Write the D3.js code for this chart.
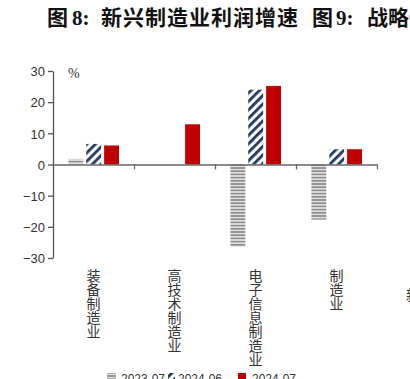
<!DOCTYPE html>
<html>
<head>
<meta charset="utf-8">
<script src="https://cdn.jsdelivr.net/npm/d3@7"></script>
<style>
  html, body { margin: 0; padding: 0; background: #fff; }
  svg { display: block; }
  .tick-label { font-family: 'Liberation Sans', Arial, sans-serif; font-size: 13px; fill: #333; }
  .cat-label { font-family: 'Noto Sans CJK SC', sans-serif; font-size: 14px; fill: #333;
               writing-mode: vertical-rl; text-orientation: upright; }
  .edge-label { font-family: 'Noto Sans CJK SC', sans-serif; font-size: 14px; fill: #333; }
  .title { font-family: 'Liberation Serif', 'Noto Sans CJK SC', serif; font-size: 21px; font-weight: bold; fill: #111; }
  .legend-label { font-family: 'Liberation Sans', Arial, sans-serif; font-size: 12px; fill: #333; }
</style>
</head>
<body>
<div id="chart"></div>
<script>
// ── Data ────────────────────────────────────────────────────────────────────
const categories = ['装备制造业', '高技术制造业', '电子信息制造业', '制造业'];
const seriesNames = ['2023-07', '2024-06', '2024-07'];
const values2023_07 = [1.8, null, -26.4, -17.7];
const values2024_06 = [6.6, null, 24.0, 4.9];
const values2024_07 = [6.1, 12.9, 25.2, 4.9];
const yTicks = [30, 20, 10, 0, -10, -20, -30];

const seriesValues = [values2023_07, values2024_06, values2024_07];
const fills = ['url(#stripe-h)', 'url(#hatch)', '#c00000'];

// ── Layout ──────────────────────────────────────────────────────────────────
const W = 410, H = 379;
const PLOT_L = 53, PLOT_R = 377, PLOT_T = 71, PLOT_B = 258;

const svg = d3.select('#chart').append('svg').attr('width', W).attr('height', H);

const defs = svg.append('defs');
const stripe = defs.append('pattern')
  .attr('id', 'stripe-h').attr('patternUnits', 'userSpaceOnUse')
  .attr('width', 6).attr('height', 3.2);
stripe.append('rect').attr('width', 6).attr('height', 3.2).attr('fill', '#fff');
stripe.append('rect').attr('y', 0.6).attr('width', 6).attr('height', 2).attr('fill', '#8c8c8c');

const hatch = defs.append('pattern')
  .attr('id', 'hatch').attr('patternUnits', 'userSpaceOnUse')
  .attr('width', 6).attr('height', 6)
  .attr('patternTransform', 'rotate(45)');
hatch.append('rect').attr('width', 6).attr('height', 6).attr('fill', '#fff');
hatch.append('rect').attr('width', 2.8).attr('height', 6).attr('fill', '#1f3864');

// ── Title ───────────────────────────────────────────────────────────────────
const title = svg.append('text').attr('class', 'title').attr('y', 25);
title.append('tspan').attr('x', 47).text('图');
title.append('tspan').attr('x', 72).text('8:');
title.append('tspan').attr('x', 101).attr('letter-spacing', 1).text('新兴制造业利润增速');
title.append('tspan').attr('x', 312).text('图');
title.append('tspan').attr('x', 336).text('9:');
title.append('tspan').attr('x', 367).text('战略性');

// ── Scales ──────────────────────────────────────────────────────────────────
const y = d3.scaleLinear().domain([-30, 30]).range([PLOT_B, PLOT_T]);
const x = d3.scaleBand().domain(categories).range([PLOT_L, PLOT_R]).padding(0);
const xInner = d3.scaleBand().domain(seriesNames)
  .range([x.bandwidth() * 0.19, x.bandwidth() * 0.815]).paddingInner(1 / 6);

// ── Bars ────────────────────────────────────────────────────────────────────
seriesNames.forEach((name, si) => {
  const rows = categories.map((c, i) => ({ c, v: seriesValues[si][i] })).filter(d => d.v != null);
  svg.append('g').selectAll('rect').data(rows).join('rect')
    .attr('x', d => x(d.c) + xInner(name))
    .attr('width', xInner.bandwidth())
    .attr('y', d => y(Math.max(0, d.v)))
    .attr('height', d => Math.abs(y(d.v) - y(0)))
    .attr('fill', fills[si]);
});

// ── Axes ────────────────────────────────────────────────────────────────────
const yAxis = svg.append('g')
  .attr('transform', `translate(${PLOT_L},0)`)
  .call(d3.axisLeft(y).tickValues(yTicks).tickSize(5).tickSizeOuter(0).tickFormat(d3.format('d')));
yAxis.select('.domain').attr('stroke', '#555').attr('stroke-width', 1.3);
yAxis.selectAll('.tick line').attr('stroke', '#555').attr('stroke-width', 1.3);
yAxis.selectAll('.tick text').attr('class', 'tick-label').attr('x', -8).attr('dy', '0.36em')
  .attr('font-family', null).attr('font-size', null).attr('fill', null);

// zero line with category ticks
const xAxis = svg.append('g')
  .attr('transform', `translate(0,${y(0)})`)
  .call(d3.axisBottom(d3.scaleLinear().domain([0, categories.length]).range([PLOT_L, PLOT_R]))
    .tickValues(d3.range(1, categories.length + 1)).tickSize(5).tickSizeOuter(0).tickFormat(''));
xAxis.select('.domain').attr('stroke', '#666').attr('stroke-width', 1.5);
xAxis.selectAll('.tick line').attr('stroke', '#666').attr('stroke-width', 1.3);

svg.append('text')
  .attr('x', 68).attr('y', 78)
  .attr('font-family', "'Liberation Serif', serif").attr('font-size', 14).attr('fill', '#333')
  .text('%');

// ── Category labels (vertical) ──────────────────────────────────────────────
svg.append('g').selectAll('text').data(categories).join('text')
  .attr('class', 'cat-label')
  .attr('x', d => x(d) + x.bandwidth() / 2)
  .attr('y', 269)
  .text(d => d);
// fragment of neighbouring chart's label at right edge
svg.append('text').attr('class', 'edge-label').attr('x', 406).attr('y', 300).text('新');

// ── Legend ──────────────────────────────────────────────────────────────────
const legendItems = [
  { name: seriesNames[0], fill: fills[0], mx: 107, mw: 9, tx: 121 },
  { name: seriesNames[1], fill: fills[1], mx: 168, mw: 7, tx: 178 },
  { name: seriesNames[2], fill: fills[2], mx: 238, mw: 8, tx: 252 },
];
const legend = svg.append('g');
legend.selectAll('rect').data(legendItems).join('rect')
  .attr('x', d => d.mx).attr('y', 373).attr('width', d => d.mw).attr('height', 8)
  .attr('fill', d => d.fill);
legend.selectAll('text').data(legendItems).join('text')
  .attr('class', 'legend-label').attr('x', d => d.tx).attr('y', 383)
  .text(d => d.name);
</script>
</body>
</html>
